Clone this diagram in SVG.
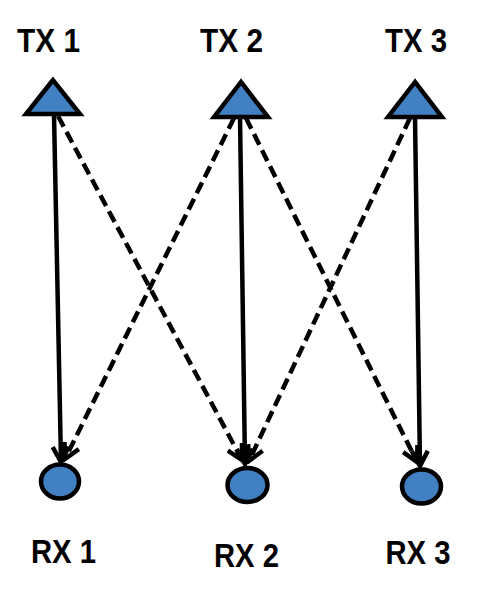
<svg xmlns="http://www.w3.org/2000/svg" width="498" height="607" viewBox="0 0 498 607">
<style>
.node{fill:#4180C2;stroke:#000;stroke-width:4.5;stroke-linejoin:miter}
.lbl{font-family:"Liberation Sans",Arial,sans-serif;font-weight:bold;font-size:33px;fill:#000;text-anchor:middle}
.c{stroke:#000;stroke-width:4.5;fill:none}
.d{stroke-dasharray:12 6}
</style>
<defs>
<marker id="ah" markerUnits="userSpaceOnUse" viewBox="0 0 20 20" refX="17" refY="10" markerWidth="20" markerHeight="20" orient="auto">
<path d="M2,2 L17,10 L2,18" fill="none" stroke="#000" stroke-width="4.5" stroke-linejoin="miter"/>
</marker>
</defs>
<g id="connectors">
<line class="c" x1="54" y1="114" x2="61" y2="462" marker-end="url(#ah)"/>
<line class="c d" x1="58" y1="116" x2="242" y2="460" marker-end="url(#ah)"/>
<line class="c d" x1="234" y1="118" x2="65" y2="459" marker-end="url(#ah)"/>
<line class="c" x1="240" y1="117" x2="245" y2="464" marker-end="url(#ah)"/>
<line class="c d" x1="246" y1="118" x2="417" y2="462" marker-end="url(#ah)"/>
<line class="c d" x1="410" y1="118" x2="249" y2="461" marker-end="url(#ah)"/>
<line class="c" x1="415" y1="117" x2="420" y2="466" marker-end="url(#ah)"/>
</g>
<g id="tx1"><polygon class="node" points="53,80 26,114 80,114"/><text class="lbl" x="48.5" y="52" textLength="63" lengthAdjust="spacingAndGlyphs">TX 1</text></g>
<g id="tx2"><polygon class="node" points="241,82 214,117 268,117"/><text class="lbl" x="231.5" y="52" textLength="63" lengthAdjust="spacingAndGlyphs">TX 2</text></g>
<g id="tx3"><polygon class="node" points="415,82 388,117 442,117"/><text class="lbl" x="416" y="52" textLength="62" lengthAdjust="spacingAndGlyphs">TX 3</text></g>
<g id="rx1"><ellipse class="node" cx="60" cy="481.5" rx="19" ry="17"/><text class="lbl" x="63.5" y="563" textLength="65" lengthAdjust="spacingAndGlyphs">RX 1</text></g>
<g id="rx2"><ellipse class="node" cx="247.5" cy="485" rx="20" ry="17"/><text class="lbl" x="246.5" y="566.5" textLength="65" lengthAdjust="spacingAndGlyphs">RX 2</text></g>
<g id="rx3"><ellipse class="node" cx="421.5" cy="486.5" rx="19.5" ry="17"/><text class="lbl" x="418" y="564" textLength="65" lengthAdjust="spacingAndGlyphs">RX 3</text></g>
</svg>
